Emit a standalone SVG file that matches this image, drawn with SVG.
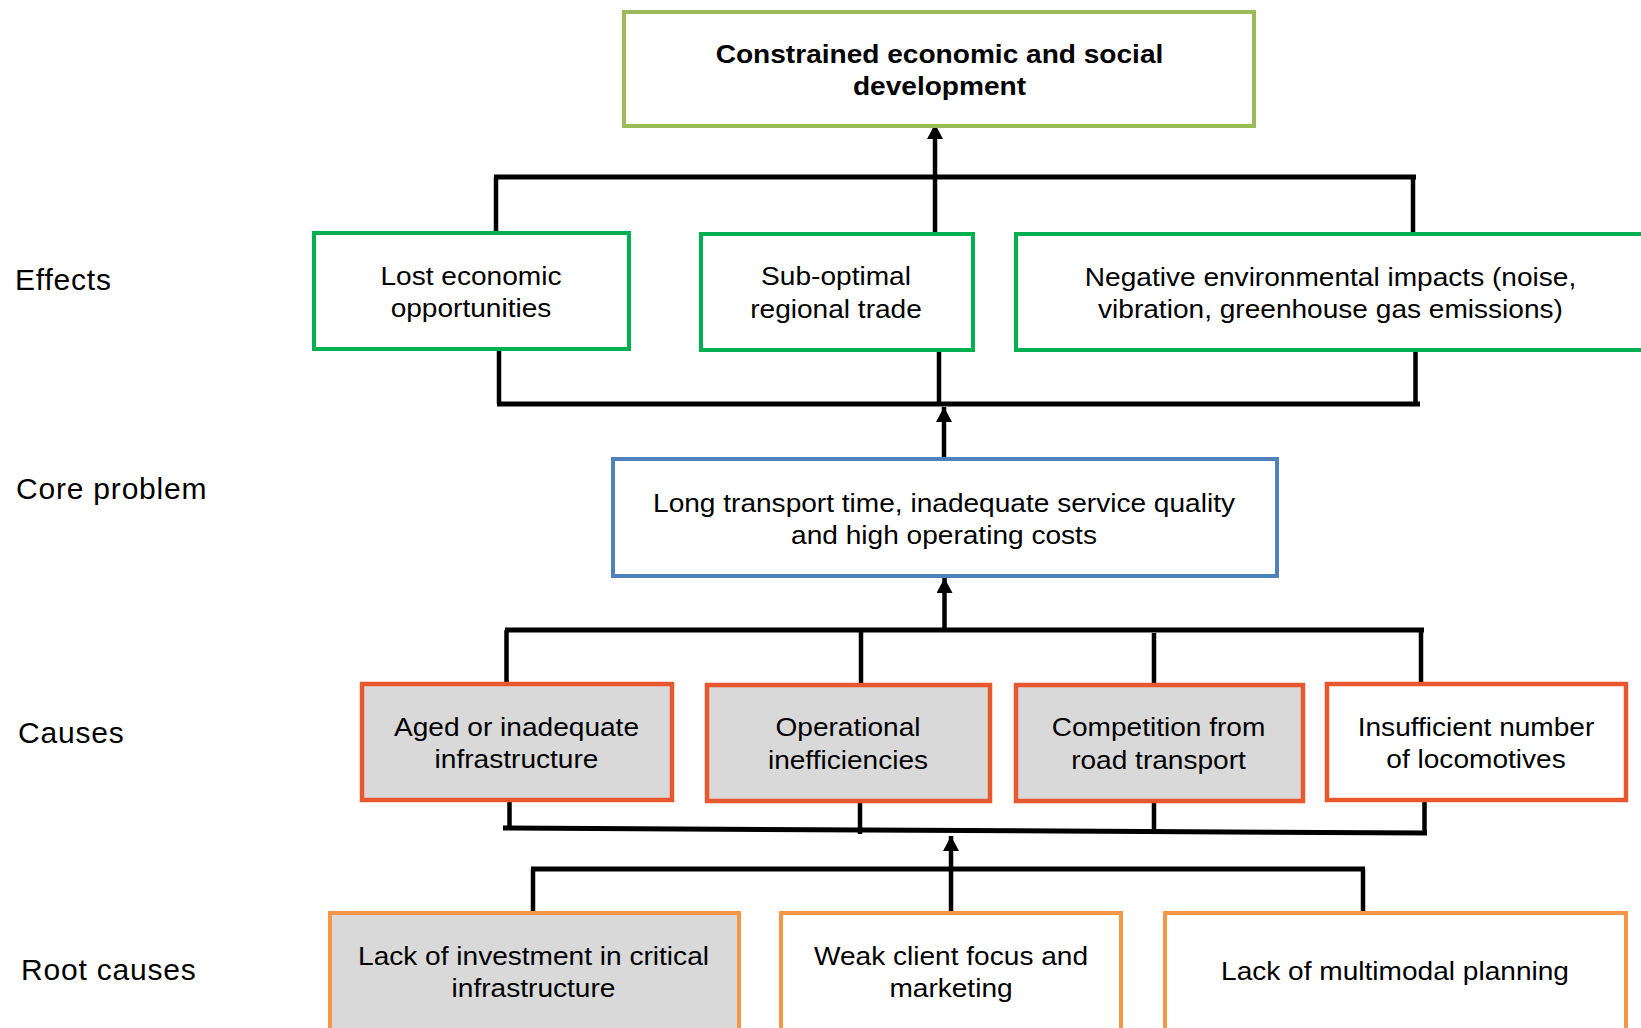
<svg xmlns="http://www.w3.org/2000/svg" width="1641" height="1028" viewBox="0 0 1641 1028">
<style>
.t{font-family:"Liberation Sans",Arial,sans-serif;font-size:26px;fill:#000;text-anchor:middle}
.b{font-weight:bold}
.lbl{font-family:"Liberation Sans",Arial,sans-serif;font-size:30px;letter-spacing:0.8px;fill:#000}
.box{fill:#fff;stroke-width:4}
.eff{stroke:#00B050}
.top{stroke:#9BBB59}
.core{stroke:#4F81BD}
.cause{stroke:#E9572F;stroke-width:4.5}
.root{stroke:#F79646}
.grey{fill:#D9D9D9}
.ln{fill:none;stroke:#000;stroke-width:4.5}
.hz{fill:none;stroke:#000;stroke-width:5}
</style>
<defs>
<marker id="ah" markerWidth="16" markerHeight="16" refX="15" refY="8" orient="auto" markerUnits="userSpaceOnUse">
<path d="M0,0 L15,8 L0,16 z" fill="#000"/>
</marker>
</defs>
<rect width="1641" height="1028" fill="#fff"/>

<g id="labels">
<text class="lbl" x="15" y="290">Effects</text>
<text class="lbl" x="16" y="499">Core problem</text>
<text class="lbl" x="18" y="743">Causes</text>
<text class="lbl" x="21" y="980">Root causes</text>
</g>

<g id="connectors">
<!-- effects to top -->
<line class="ln" x1="935" y1="232" x2="935" y2="124" marker-end="url(#ah)"/>
<line class="hz" x1="494" y1="177" x2="1416" y2="177"/>
<line class="ln" x1="496" y1="177" x2="496" y2="233"/>
<line class="ln" x1="1413" y1="177" x2="1413" y2="233"/>
<!-- core to effects -->
<line class="ln" x1="499" y1="351" x2="499" y2="404"/>
<line class="ln" x1="939" y1="352" x2="939" y2="404"/>
<line class="ln" x1="1415.5" y1="352" x2="1415.5" y2="404"/>
<line class="hz" x1="497" y1="404" x2="1420" y2="404"/>
<line class="ln" x1="944" y1="457" x2="944" y2="407" marker-end="url(#ah)"/>
<!-- causes to core -->
<line class="ln" x1="944.5" y1="630" x2="944.5" y2="578" marker-end="url(#ah)"/>
<line class="hz" x1="505" y1="630" x2="1424" y2="630"/>
<line class="ln" x1="506.5" y1="630" x2="506.5" y2="684"/>
<line class="ln" x1="861" y1="630" x2="861" y2="685"/>
<line class="ln" x1="1154" y1="633" x2="1154" y2="685"/>
<line class="ln" x1="1421" y1="630" x2="1421" y2="684"/>
<!-- causes bottom -->
<line class="ln" x1="509.5" y1="802" x2="509.5" y2="828"/>
<line class="ln" x1="860" y1="803" x2="860" y2="834"/>
<line class="ln" x1="1154" y1="803" x2="1154" y2="832"/>
<line class="ln" x1="1424.5" y1="802" x2="1424.5" y2="833"/>
<polyline class="hz" points="503,828 1427,833"/>
<!-- root causes to causes -->
<line class="ln" x1="951" y1="913" x2="951" y2="836" marker-end="url(#ah)"/>
<line class="hz" x1="531" y1="869" x2="1365" y2="869"/>
<line class="ln" x1="533" y1="869" x2="533" y2="913"/>
<line class="ln" x1="1363" y1="869" x2="1363" y2="913"/>
</g>

<g id="n-top">
<rect class="box top" x="624" y="12" width="630" height="114"/>
<text class="t b" transform="translate(939.5 0) scale(1.08 1)"><tspan x="0" y="63">Constrained economic and social</tspan><tspan x="0" y="95.5">development</tspan></text>
</g>

<g id="n-lost">
<rect class="box eff" x="314" y="233" width="315" height="116"/>
<text class="t" transform="translate(471 0) scale(1.08 1)"><tspan x="0" y="285">Lost economic</tspan><tspan x="0" y="317.5">opportunities</tspan></text>
</g>
<g id="n-trade">
<rect class="box eff" x="701" y="234" width="272" height="116"/>
<text class="t" transform="translate(836 0) scale(1.08 1)"><tspan x="0" y="285.5">Sub-optimal</tspan><tspan x="0" y="318">regional trade</tspan></text>
</g>
<g id="n-env">
<rect class="box eff" x="1016" y="234" width="640" height="116"/>
<text class="t" transform="translate(1330.5 0) scale(1.08 1)"><tspan x="0" y="286">Negative environmental impacts (noise,</tspan><tspan x="0" y="318.5">vibration, greenhouse gas emissions)</tspan></text>
</g>

<g id="n-core">
<rect class="box core" x="613" y="459" width="664" height="117"/>
<text class="t" transform="translate(944 0) scale(1.08 1)"><tspan x="0" y="512">Long transport time, inadequate service quality</tspan><tspan x="0" y="544.5">and high operating costs</tspan></text>
</g>

<g id="n-aged">
<rect class="box cause grey" x="362" y="684" width="310" height="116"/>
<text class="t" transform="translate(516.5 0) scale(1.08 1)"><tspan x="0" y="736">Aged or inadequate</tspan><tspan x="0" y="768.5">infrastructure</tspan></text>
</g>
<g id="n-oper">
<rect class="box cause grey" x="707" y="685" width="283" height="116"/>
<text class="t" transform="translate(848 0) scale(1.08 1)"><tspan x="0" y="736.5">Operational</tspan><tspan x="0" y="769">inefficiencies</tspan></text>
</g>
<g id="n-comp">
<rect class="box cause grey" x="1016" y="685" width="287" height="116"/>
<text class="t" transform="translate(1158.5 0) scale(1.08 1)"><tspan x="0" y="736.5">Competition from</tspan><tspan x="0" y="769">road transport</tspan></text>
</g>
<g id="n-loco">
<rect class="box cause" x="1327" y="684" width="299" height="116"/>
<text class="t" transform="translate(1476 0) scale(1.08 1)"><tspan x="0" y="736">Insufficient number</tspan><tspan x="0" y="768.5">of locomotives</tspan></text>
</g>

<g id="n-invest">
<rect class="box root grey" x="330" y="913" width="409" height="130"/>
<text class="t" transform="translate(533.5 0) scale(1.08 1)"><tspan x="0" y="965">Lack of investment in critical</tspan><tspan x="0" y="997">infrastructure</tspan></text>
</g>
<g id="n-client">
<rect class="box root" x="781" y="913" width="340" height="130"/>
<text class="t" transform="translate(951 0) scale(1.08 1)"><tspan x="0" y="965">Weak client focus and</tspan><tspan x="0" y="997">marketing</tspan></text>
</g>
<g id="n-multi">
<rect class="box root" x="1165" y="913" width="461" height="130"/>
<text class="t" transform="translate(1395 0) scale(1.08 1)"><tspan x="0" y="980">Lack of multimodal planning</tspan></text>
</g>
</svg>
